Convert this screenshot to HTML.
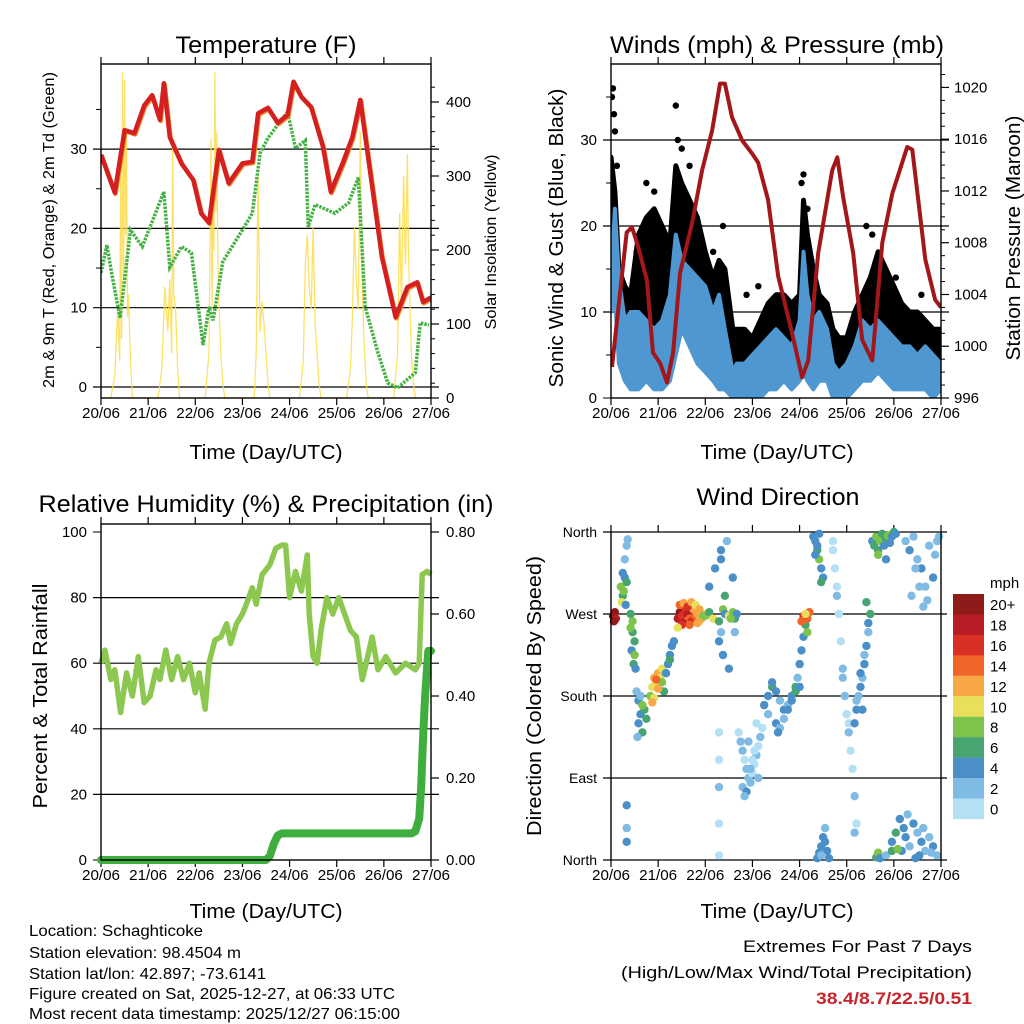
<!DOCTYPE html>
<html><head><meta charset="utf-8"><style>
html,body{margin:0;padding:0;background:#fff;}
svg{display:block;font-family:"Liberation Sans",sans-serif;}
</style></head><body>
<svg id="s" width="1024" height="1024" viewBox="0 0 1024 1024" xmlns="http://www.w3.org/2000/svg">
<rect width="1024" height="1024" fill="#fff"/>
<text x="266" y="53" font-size="24" text-anchor="middle" textLength="181" lengthAdjust="spacingAndGlyphs">Temperature (F)</text>
<text x="777" y="53" font-size="24" text-anchor="middle" textLength="334" lengthAdjust="spacingAndGlyphs">Winds (mph) &amp; Pressure (mb)</text>
<text x="266" y="512" font-size="24" text-anchor="middle" textLength="455" lengthAdjust="spacingAndGlyphs">Relative Humidity (%) &amp; Precipitation (in)</text>
<text x="778" y="505" font-size="24" text-anchor="middle" textLength="163" lengthAdjust="spacingAndGlyphs">Wind Direction</text>
<text x="266" y="459" font-size="20" text-anchor="middle" textLength="153" lengthAdjust="spacingAndGlyphs">Time (Day/UTC)</text>
<text x="777" y="459" font-size="20" text-anchor="middle" textLength="153" lengthAdjust="spacingAndGlyphs">Time (Day/UTC)</text>
<text x="266" y="918" font-size="20" text-anchor="middle" textLength="153" lengthAdjust="spacingAndGlyphs">Time (Day/UTC)</text>
<text x="777" y="918" font-size="20" text-anchor="middle" textLength="153" lengthAdjust="spacingAndGlyphs">Time (Day/UTC)</text>
<text transform="translate(54,230) rotate(-90)" font-size="16" text-anchor="middle" textLength="316" lengthAdjust="spacingAndGlyphs">2m &amp; 9m T (Red, Orange) &amp; 2m Td (Green)</text>
<text transform="translate(496,242) rotate(-90)" font-size="16" text-anchor="middle" textLength="175" lengthAdjust="spacingAndGlyphs">Solar Insolation (Yellow)</text>
<text transform="translate(563,238) rotate(-90)" font-size="20" text-anchor="middle" textLength="299" lengthAdjust="spacingAndGlyphs">Sonic Wind &amp; Gust (Blue, Black)</text>
<text transform="translate(1020,238) rotate(-90)" font-size="20" text-anchor="middle" textLength="245" lengthAdjust="spacingAndGlyphs">Station Pressure (Maroon)</text>
<text transform="translate(47,696) rotate(-90)" font-size="20" text-anchor="middle" textLength="225" lengthAdjust="spacingAndGlyphs">Percent &amp; Total Rainfall</text>
<text transform="translate(541,696) rotate(-90)" font-size="20" text-anchor="middle" textLength="280" lengthAdjust="spacingAndGlyphs">Direction (Colored By Speed)</text>
<g font-size="16">
<text x="29" y="936" textLength="174" lengthAdjust="spacingAndGlyphs">Location: Schaghticoke</text>
<text x="29" y="958" textLength="212" lengthAdjust="spacingAndGlyphs">Station elevation: 98.4504 m</text>
<text x="29" y="979" textLength="237" lengthAdjust="spacingAndGlyphs">Station lat/lon: 42.897; -73.6141</text>
<text x="29" y="999" textLength="366" lengthAdjust="spacingAndGlyphs">Figure created on Sat, 2025-12-27, at 06:33 UTC</text>
<text x="29" y="1019" textLength="371" lengthAdjust="spacingAndGlyphs">Most recent data timestamp: 2025/12/27 06:15:00</text>
</g>
<g font-size="17" text-anchor="end">
<text x="972" y="952" textLength="229" lengthAdjust="spacingAndGlyphs">Extremes For Past 7 Days</text>
<text x="972" y="978" textLength="351" lengthAdjust="spacingAndGlyphs">(High/Low/Max Wind/Total Precipitation)</text>
<text x="972" y="1004" fill="#c8242b" font-weight="bold" textLength="156" lengthAdjust="spacingAndGlyphs">38.4/8.7/22.5/0.51</text>
</g>
<g id="plots"></g>
</svg>
<script>
const dayLabels = ["20/06","21/06","22/06","23/06","24/06","25/06","26/06","27/06"];
// ---- temperature panel ----
const tempT   = [0,7,12,17,22,26,30,32,35,41,47,51,55,60,65,72,77,80,85,90,95,98,102,107,113,117,123,128,132,136,143,150,156,161,164,168];
const tempRed = [29.3,24.5,32.4,32,35.5,36.8,33.7,38.3,31.5,28.2,26.1,21.9,20.7,29.9,25.7,28.2,28.4,34.5,35.2,33.3,34.3,38.5,36.6,35.3,30.3,24.6,28.2,31.5,36.2,29,16.4,8.8,12.6,13.2,10.7,11.3];
const dewT    = [0,3,5.6,9.7,15,21,32,35,41,46,52,55,57,62,72,77,81,85,95,99,104,105.5,109,119,126,131,134.5,141,146,151,160,162.5,167];
const dewV    = [14.4,17.9,14.1,8.7,19.8,17.7,24.6,15.1,17.7,16.9,5.3,10.1,8.4,15.8,19.8,21.9,29.5,31.4,34.7,30.1,31.1,20.2,23,21.9,23.2,26.4,10.1,4.3,0.5,-0.1,1.8,8.1,7.8];
const solarT  = [5,7,8.5,9.5,10,10.5,11,11.5,12,12.5,13,13.5,14,15,16,29,31,32.5,34,35,36,36.5,37,38,39,40,53,55,56,56.5,57,57.5,58,58.5,59,59.5,60,61,62,63,78,79,80,81,82,83,84,85,86,101,103,104,105,106,107,108,109,110,111,112,125,127,128,129,130,131,132,133,134,135,136,149,151,152,153,154,155,156,156.5,157,158,159,160];
const solarV  = [0,30,120,50,300,80,440,160,430,220,360,110,140,50,0,0,40,150,90,160,60,350,140,120,40,0,0,60,350,120,300,200,440,250,360,180,130,60,20,0,0,60,300,90,130,100,60,20,0,0,50,180,220,150,120,230,100,60,20,0,0,40,110,230,160,120,360,150,70,20,0,0,60,250,120,300,180,330,200,150,60,20,0];
// ---- wind panel ----
const windT  = [0,2,4,7,10,14,18,22,26,30,33,36,40,44,48,52,55,58,62,64,68,72,76,80,84,88,92,96,98,100,103,106,110,113,116,120,124,128,132,136,140,144,148,152,156,160,164,168];
const blueLo = [10,12,4,2,1,1,2,1,1,2,5,8,6,4,3,2,1,1,0,0,0,0,0,1,1,2,1,2,3,2,1,2,2,0,0,0,1,2,2,3,2,1,1,1,1,1,0,1];
const blueHi = [14,22,14,9,10,10,9,8,9,12,19,16,15,14,13,10,12,8,3,4,4,5,6,7,8,7,6,9,17,12,9,10,8,4,3,4,6,9,8,9,8,7,6,6,5,6,5,4];
const gustLo = [16,14,6,4,3,3,4,4,4,5,10,12,10,8,6,5,3,2,1,1,2,2,3,3,4,4,3,4,8,6,4,4,4,2,2,2,3,4,4,5,5,4,3,3,3,3,2,2];
const gustHi = [28,24,15,13,12,19,21,22,20,18,27,25,23,21,17,14,16,15,8,8,8,7,9,11,12,12,11,12,23,19,15,12,11,8,7,7,10,12,14,17,15,13,11,10,10,9,8,8];
const gustPeakT = [0.5,1,1.5,2,3,13,18,22,33,34,36,40,52,57,69,75,97,98,100,102,130,133,145,158];
const gustPeakV = [35,36,33,31,27,17,25,24,34,30,29,27,17,20,12,13,25,26,22,16,20,19,14,12];
const presT  = [0.5,4.6,8,10.7,13.8,18.3,21.4,25,28.5,31.6,35.2,41.3,46.4,51.5,55.5,58,61.6,66.8,71.8,74.9,80,85.1,92.2,97.3,100.4,105.5,112.6,115.2,118.2,123.3,127.9,133,138.1,143.2,150.8,153.4,160,165,168];
const presV  = [998.4,1004.1,1008.8,1009.2,1007.7,1005.1,999.5,998.7,997.2,999.5,1005.7,1009.5,1013.6,1016.7,1020.3,1020.3,1017.7,1015.9,1014.9,1014.2,1011.3,1005.4,1001,997.6,998.9,1007.2,1013.6,1014.6,1011.5,1007.2,1000.5,998.9,1008,1011.8,1015.4,1015.2,1006.7,1003.6,1003];
// ---- RH panel ----
const rhT  = [0,2,5,7,10,13,16,19,22,25,28,30,33,36,39,42,45,48,50,53,55,58,61,64,66,69,72,74,77,79,82,86,89,92,94,96,99,102,105,106,108,110,112,115,118,121,124,127,130,133,135,138,141,145,150,155,160,162,163.5,166,168];
const rhV  = [60,64,55,58,45,57,50,62,48,50,58,55,64,55,62,55,60,51,57,46,60,67,68,72,66,72,75,78,83,78,87,90,95,96,96,80,88,82,93,75,62,60,70,80,75,80,75,70,68,55,60,68,58,62,57,60,58,60,87,88,87];
const prT  = [0,84,86,88,90,92,158,160,162,163,164,165,166,166.6,168];
const prV  = [0,0,0.01,0.04,0.06,0.065,0.065,0.07,0.1,0.18,0.3,0.4,0.47,0.51,0.51];
// ---- wind direction panel ----
const wdHour = [1,2,2.5,1.5, 5,6,7,5.5,6.5,8,7.5,6, 7,8,8.5, 10,11,11,12,10.5,12,11.5,12.5,10,
 13,14,15,14,16,17,15,13.5,18,16, 20,21,22,23,24,25,26,27,22,24,26,28,21,23, 28,29,30,31,32,30,
 34,35,36,37,38,39,40,41,42,43,44,45,46,47,35,37,39,41,43,45,36,40,44,34,47,
 48,50,52,55,57,58,60,62,63,64,50,53,56,59,62,55,57,60,63,58,61, 55,55,55,55,55,56,56,
 65,66,67,68,69,70,71,72,73,74,75,76,77,67,69,71,73,75,68,72,70,74,
 78,80,82,84,86,88,90,92,94,80,84,88,92,82,86,90,94,85, 95,96,97,98,99,100,101,98,97,99,96,100,
 103,104,105,106,107,108,105,107,104,106, 105,106,107,108,109,110,107,109,111,
 113,114,115,116,117,118,119,120,121,122,123,124,125,115,118,121,124,113,
 124,125,126,127,128,129,130,131,132,125,127,129,131,128,130,
 133,134,135,136,137,138,139,140,141,142,143,144,145,136,140, 135,136,137,140,143,
 143,145,147,149,150,152,154,156,158,160,162,164,166,148,151,155,159,163,146,157,
 150,152,154,156,158,160,162,164,166,167,153,157,161,165,155,159, 8,8,8];
const wdDir = [268,272,265,262, 300,290,310,283,295,305,280,315, 330,345,352, 270,262,250,240,230,225,215,210,255,
 185,175,160,150,140,165,180,135,155,170, 180,190,200,195,205,200,195,185,178,188,210,205,173,198, 205,215,225,235,240,220,
 265,272,268,260,275,270,265,262,275,268,270,262,265,270,280,282,278,283,280,275,258,258,260,255,268,
 268,272,265,262,275,270,268,272,265,270,300,320,340,350,310,240,225,210,250,290,265, 5,40,80,110,140,250,330,
 140,130,120,110,100,90,85,95,105,115,125,135,145,80,75,100,120,90,70,110,130,150,
 170,180,190,185,175,165,170,180,190,160,150,155,175,195,145,165,185,140, 200,215,230,245,258,265,272,268,262,270,190,250,
 355,350,340,330,320,310,345,305,335,358, 2,8,15,25,35,10,5,20,2,
 340,320,290,270,240,210,180,160,140,120,100,70,40,300,200,150,30,350,
 150,165,180,190,200,215,235,250,270,175,205,225,260,165,283,
 350,345,355,340,350,358,345,352,356,348,355,360,358,335,330, 3,8,2,5,10,
 20,30,45,35,25,15,40,30,20,10,25,15,5,10,50,2,35,8,12,5,
 350,340,355,330,320,300,345,310,350,355,290,300,285,335,320,278, 60,35,20];
const wdSpeed = [20,20,18,20, 8,6,4,10,8,6,4,4, 2,2,2, 6,8,6,6,4,8,6,4,8,
 2,4,4,4,6,6,2,2,6,8, 8,10,12,10,12,10,8,6,10,12,10,8,12,14, 4,4,4,4,4,6,
 18,20,16,18,16,18,14,16,12,14,12,10,12,10,14,12,16,12,10,12,16,14,12,10,8,
 8,6,10,6,8,4,10,8,6,4,4,4,4,2,4,4,4,4,2,6,8, 0,0,2,0,0,2,4,
 0,2,2,0,2,2,2,0,0,2,0,2,0,2,4,2,0,2,2,0,2,0,
 4,4,6,4,2,4,2,4,6,2,4,2,4,4,2,4,6,4, 2,4,4,4,6,14,14,16,14,10,4,8,
 4,4,6,8,4,4,4,6,4,4, 4,4,4,4,2,4,2,4,4,
 0,0,2,0,0,2,2,0,2,0,0,2,0,0,2,0,2,0,
 4,4,2,4,2,4,4,2,6,2,4,2,4,4,6,
 4,6,8,6,8,6,4,6,8,4,4,6,4,8,4, 6,8,4,2,6,
 4,6,4,4,4,2,4,2,4,2,2,4,2,4,2,4,2,2,8,4,
 2,4,2,2,4,2,2,4,2,2,2,2,2,2,2,2, 4,2,4];
const dirLabels = ["North","East","South","West","North"];
const speedLabels = ["0","2","4","6","8","10","12","14","16","18","20+"];
const speedColors = ["#b4e0f6","#80bbe3","#4a8fc7","#48a572","#7ec34b","#e8e05a","#f7a745","#f06428","#d93025","#b81c24","#8f1a1a"];

const NS="http://www.w3.org/2000/svg";
const root=document.getElementById('plots');
function mk(tag,attrs,parent){const e=document.createElementNS(NS,tag);for(const k in attrs)e.setAttribute(k,attrs[k]);(parent||root).appendChild(e);return e;}
function txt(s,attrs,parent){const e=mk('text',attrs,parent);e.textContent=s;return e;}

function xAxisFn(x0){return h=>x0+h/168*330;}
const xA=xAxisFn(101), xB=xAxisFn(611);
const yTemp=v=>387-v*7.93, ySolar=v=>398-v*0.74, yWind=v=>398-v*8.6, yPres=p=>398-(p-996)*12.94;
const yRH=v=>860-v*3.28, yPr=p=>860-p*410, yDir=d=>860-d/360*328;

function pathOf(ts,vs,fx,fy){return ts.map((t,i)=>(i?'L':'M')+fx(t).toFixed(1)+' '+fy(vs[i]).toFixed(1)).join(' ');}

function frame(x0,y0,x1,y1,name){
  const g=mk('g',{});
  
  
  const fx=xAxisFn(x0);
  dayLabels.forEach((d,i)=>{
    const x=fx(i*24);
    mk('line',{x1:x,x2:x,y1:y1,y2:y1+7,stroke:'#000','stroke-width':1.2},g);
    mk('line',{x1:x,x2:x,y1:y0,y2:y0-7,stroke:'#000','stroke-width':1.2},g);
    const t=txt(d,{x:x,y:y1+20,'font-size':15,'text-anchor':'middle',textLength:38,lengthAdjust:'spacingAndGlyphs'},g);
    
    
  });
  return g;
}
function box(g,x0,y0,x1,y1){mk('rect',{x:x0,y:y0,width:x1-x0,height:y1-y0,fill:'none',stroke:'#000','stroke-width':1.4},g);}
function hgrid(g,y,x0,x1){mk('line',{x1:x0-8,x2:x1+8,y1:y,y2:y,stroke:'#000','stroke-width':1.2},g);}

// ===== Panel 1 =====
(function(){
  const g=frame(101,64,431,398,'temperature-panel');
  [0,10,20,30].forEach(v=>{hgrid(g,yTemp(v),101,431);
    const t=txt(String(v),{x:87,y:yTemp(v)+5,'font-size':15,'text-anchor':'end'},g);
    });
  [5,15,25,35].forEach(v=>mk('line',{x1:96,x2:101,y1:yTemp(v),y2:yTemp(v),stroke:'#000'},g));
  [0,100,200,300,400].forEach(v=>{mk('line',{x1:431,x2:439,y1:ySolar(v),y2:ySolar(v),stroke:'#000','stroke-width':1.2},g);
    const t=txt(String(v),{x:446,y:ySolar(v)+5,'font-size':15},g);
    });
  for(let v=20;v<440;v+=20){if(v%100)mk('line',{x1:431,x2:435,y1:ySolar(v),y2:ySolar(v),stroke:'#000'},g);}
  const cl=mk('clipPath',{id:'c1'},g);mk('rect',{x:101,y:64,width:330,height:334},cl);
  const pg=mk('g',{'clip-path':'url(#c1)'},g);
  const sol=mk('path',{d:pathOf(solarT,solarV,xA,ySolar),fill:'none',stroke:'#fddc4a','stroke-width':1.3,'stroke-opacity':0.85},pg);
  
  
  const dew=mk('path',{d:pathOf(dewT,dewV,xA,yTemp),fill:'none',stroke:'#45b043','stroke-width':3.5,'stroke-dasharray':'2.5 1.2'},pg);
  
  
  const org=mk('path',{d:pathOf(tempT,tempRed,h=>xA(h)+0.8,v=>yTemp(v)+1.2),fill:'none',stroke:'#f08a2a','stroke-width':4.5,'stroke-linejoin':'round'},pg);
  
  
  const red=mk('path',{d:pathOf(tempT,tempRed,xA,yTemp),fill:'none',stroke:'#d42020','stroke-width':4.5,'stroke-linejoin':'round'},pg);
  
  
  box(g,101,64,431,398);
})();

// ===== Panel 2 =====
(function(){
  const g=frame(611,64,941,398,'winds-panel');
  [0,10,20,30].forEach(v=>{ if(v) hgrid(g,yWind(v),611,941); else mk('line',{x1:603,x2:611,y1:398,y2:398,stroke:'#000'},g);
    const t=txt(String(v),{x:597,y:yWind(v)+5,'font-size':15,'text-anchor':'end'},g);
    });
  [5,15,25,35].forEach(v=>mk('line',{x1:606,x2:611,y1:yWind(v),y2:yWind(v),stroke:'#000'},g));
  [996,1000,1004,1008,1012,1016,1020].forEach(p=>{mk('line',{x1:941,x2:949,y1:yPres(p),y2:yPres(p),stroke:'#000','stroke-width':1.2},g);
    const t=txt(String(p),{x:954,y:yPres(p)+5,'font-size':15},g);
    });
  for(let p=997;p<1022;p++){if(p%4)mk('line',{x1:941,x2:945,y1:yPres(p),y2:yPres(p),stroke:'#000'},g);}
  const cl=mk('clipPath',{id:'c2'},g);mk('rect',{x:611,y:64,width:330,height:334},cl);
  const pg=mk('g',{'clip-path':'url(#c2)'},g);
  function band(lo,hi,col,w,name){
    const top=windT.map((t,i)=>xB(t).toFixed(1)+','+yWind(hi[i]).toFixed(1));
    const bot=windT.map((t,i)=>xB(t).toFixed(1)+','+yWind(lo[i]).toFixed(1)).reverse();
    const p=mk('polygon',{points:top.concat(bot).join(' '),fill:col,stroke:col,'stroke-width':w,'stroke-linejoin':'round'},pg);
    
    
  }
  band(gustLo,gustHi,'#000',5,'gust-dots');
  gustPeakT.forEach((t,i)=>{const c=mk('circle',{cx:xB(t),cy:yWind(gustPeakV[i]),r:3.2,fill:'#000'},pg);
    
    });
  band(blueLo,blueHi,'#4f97d1',4,'sustained-wind-band');
  const pr=mk('path',{d:pathOf(presT,presV,xB,yPres),fill:'none',stroke:'#a3161a','stroke-width':4,'stroke-linejoin':'round'},pg);
  
  
  box(g,611,64,941,398);
})();

// ===== Panel 3 =====
(function(){
  const g=frame(101,524,431,860,'humidity-panel');
  [0,20,40,60,80,100].forEach(v=>{ if(v>0&&v<100) hgrid(g,yRH(v),101,431); else mk('line',{x1:93,x2:101,y1:yRH(v),y2:yRH(v),stroke:'#000'},g);
    const t=txt(String(v),{x:87,y:yRH(v)+5,'font-size':15,'text-anchor':'end'},g);
    });
  [0,0.2,0.4,0.6,0.8].forEach(p=>{mk('line',{x1:431,x2:439,y1:yPr(p),y2:yPr(p),stroke:'#000','stroke-width':1.2},g);
    const t=txt(p.toFixed(2),{x:446,y:yPr(p)+5,'font-size':15},g);
    });
  const cl=mk('clipPath',{id:'c3'},g);mk('rect',{x:96,y:524,width:340,height:340},cl);
  const pg=mk('g',{'clip-path':'url(#c3)'},g);
  const rh=mk('path',{d:pathOf(rhT,rhV,xA,yRH),fill:'none',stroke:'#8cc850','stroke-width':5.5,'stroke-linejoin':'round'},pg);
  
  
  const pr=mk('path',{d:pathOf(prT,prV,xA,yPr),fill:'none',stroke:'#3fae3f','stroke-width':8,'stroke-linejoin':'round','stroke-linecap':'round'},pg);
  
  
  box(g,101,524,431,860);
})();

// ===== Panel 4 =====
(function(){
  const g=frame(611,532,941,860,'wind-direction-panel');
  dirLabels.forEach((d,i)=>{const y=yDir(i*90);
    mk('line',{x1:603,x2:947,y1:y,y2:y,stroke:'#000','stroke-width':1.2},g);
    const t=txt(d,{x:597,y:y+5,'font-size':14,'text-anchor':'end'},g);
    });
  const pg=mk('g',{},g);
  wdHour.forEach((h,i)=>{
    const idx=Math.min(10,Math.round(wdSpeed[i]/2));
    const c=mk('circle',{cx:xB(h).toFixed(1),cy:yDir(wdDir[i]).toFixed(1),r:4.2,fill:speedColors[idx]},pg);
    
    
  });
  mk('line',{x1:611,x2:611,y1:532,y2:860,stroke:'#000','stroke-width':1.4},g);
  mk('line',{x1:941,x2:941,y1:532,y2:860,stroke:'#000','stroke-width':1.4},g);
  const cb=mk('g',{},g);
  
  
  const lab=txt('mph',{x:990,y:588,'font-size':15},cb);
  
  
  speedLabels.forEach((s,i)=>{const y=594+i*20.45;
    const r=mk('rect',{x:953,y:y,width:31,height:20.6,fill:speedColors[10-i]},cb);
    
    
    const t=txt(speedLabels[10-i],{x:990,y:y+16,'font-size':15},cb);
    
    
  });
})();
</script>
</body></html>
